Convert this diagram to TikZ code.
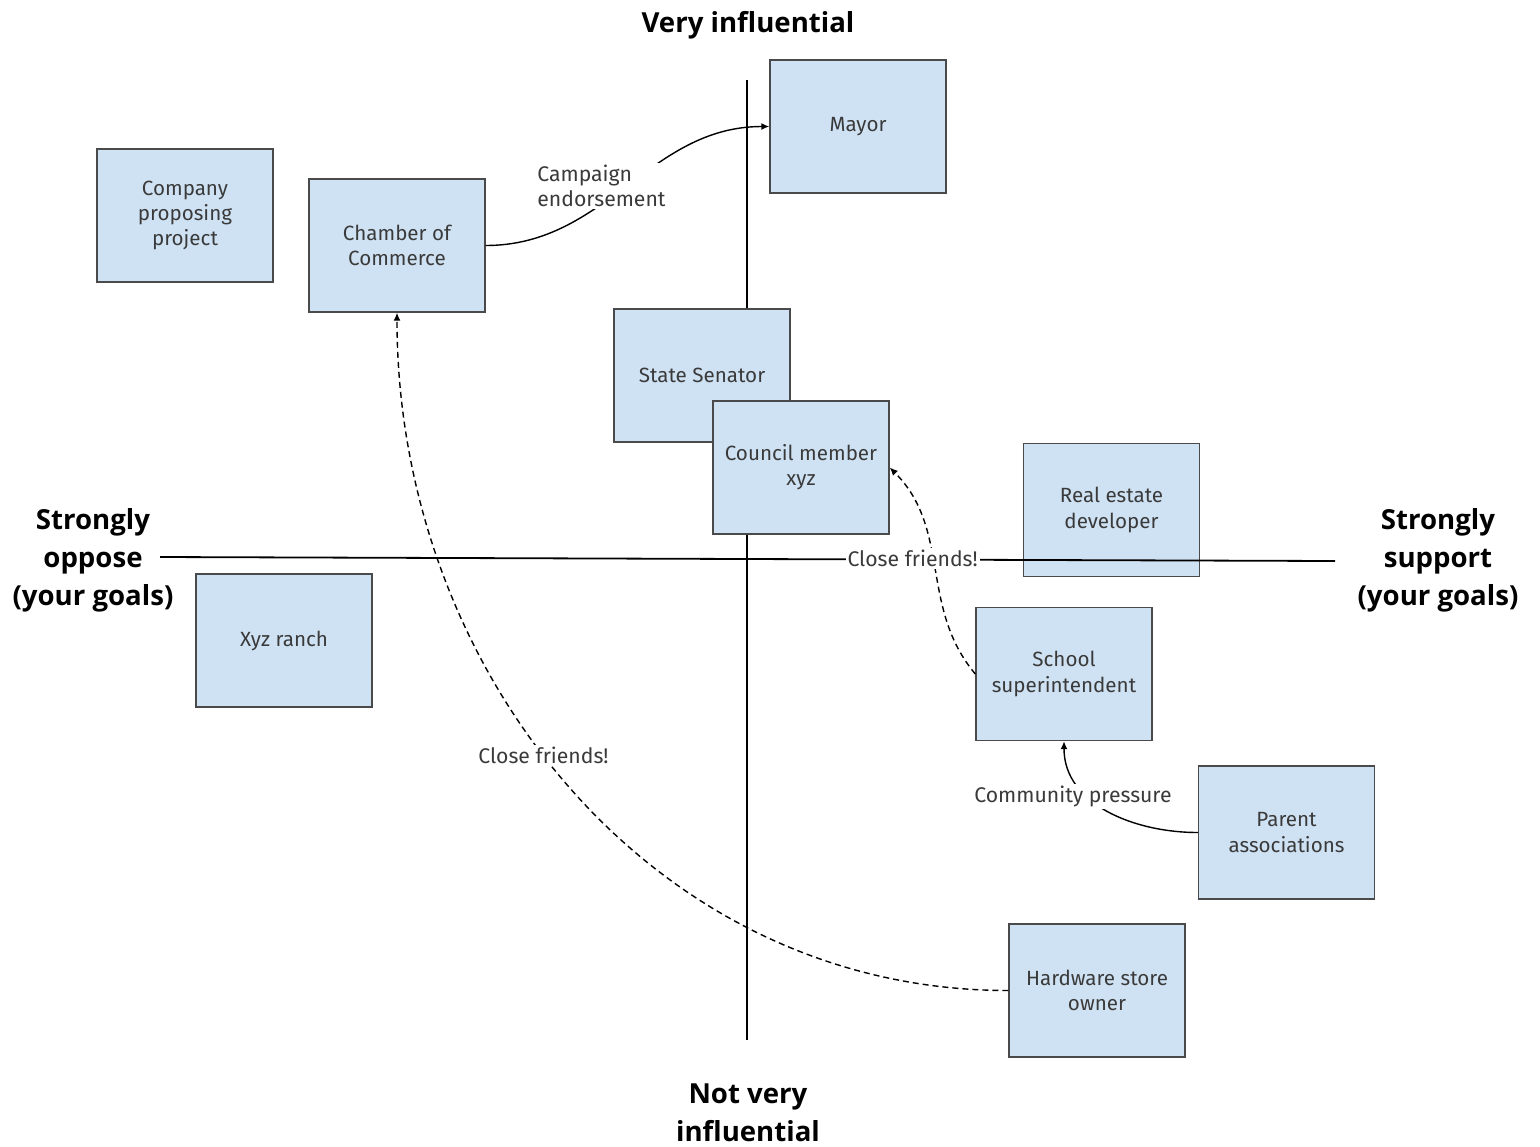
\documentclass[tikz,border=0pt]{standalone}
\usepackage{fontspec}
\setmainfont{Fira Sans}
\newfontfamily\headfont{Open Sans}
\usetikzlibrary{arrows.meta}
\definecolor{boxfill}{HTML}{CFE2F3}
\definecolor{boxline}{HTML}{4A4A4A}
\definecolor{txt}{HTML}{3A3A3A}

\begin{document}
\begin{tikzpicture}[x=0.5pt,y=-0.5pt,
  actor/.style={draw=boxline,line width=0.7pt,fill=boxfill,minimum width=88pt,
    minimum height=66.5pt,align=center,text=txt,font=\fontsize{10.3}{12.6}\selectfont},
  axisline/.style={line width=0.9pt},
  headline/.style={align=center,font=\headfont\fontsize{13.8}{19}\selectfont\bfseries},
  link/.style={line width=0.7pt,-{Latex[length=4pt,width=3.5pt]}},
  friends/.style={link,dash pattern=on 3pt off 2pt},
  lab/.style={fill=white,inner sep=1pt,text=txt,font=\fontsize{10.6}{12.6}\selectfont}]
  \useasboundingbox (0,0) rectangle (1540,1146);

  % axes
  \coordinate (vtop) at (747,80);
  \coordinate (vbot) at (747,1040);
  \coordinate (hleft) at (160,557);
  \coordinate (hright) at (1335,561);
  \draw[axisline] (vtop) -- (vbot);

  \node[headline] (vhigh) at (748,25) {Very influential};
  \node[headline] (vlow) at (748,1113) {Not very\\influential};
  \node[headline] (oppose) at (93,560) {Strongly\\oppose\\(your goals)};
  \node[headline] (support) at (1438,560) {Strongly\\support\\(your goals)};

  % stakeholders
  \node[actor] (company) at (185,215.5) {Company\\proposing\\project};
  \node[actor] (chamber) at (397,245.5) {Chamber of\\Commerce};
  \node[actor] (mayor) at (858,126.5) {Mayor};
  \node[actor] (senator) at (702,375.5) {State Senator};
  \node[actor] (council) at (801,467.5) {Council member\\xyz};
  \node[actor] (realestate) at (1111.5,510) {Real estate\\developer};
  \node[actor] (ranch) at (284,640.5) {Xyz ranch};
  \node[actor] (school) at (1064,674) {School\\superintendent};
  \node[actor] (parent) at (1286.5,832.5) {Parent\\associations};
  \node[actor] (hardware) at (1097,990.5) {Hardware store\\owner};

  \draw[axisline] (hleft) -- (hright);

  % relations
  \draw[link] (chamber.east) to[out=0,in=180]
    node[lab,align=left,pos=0.5,xshift=-13pt] {Campaign\\endorsement} (mayor.west);
  \draw[friends] (hardware.west) to[out=180,in=-90]
    node[lab,pos=0.54] {Close friends!} (chamber.south);
  \draw[friends] (school.west) to[out=130,in=-45]
    node[lab,pos=0.5,xshift=-11pt,yshift=5pt] {Close friends!} (council.east);
  \draw[link] (parent.west) to[out=180,in=-90]
    node[lab,pos=0.7,xshift=-4pt,yshift=-4pt] {Community pressure} (school.south);
\end{tikzpicture}
\end{document}
